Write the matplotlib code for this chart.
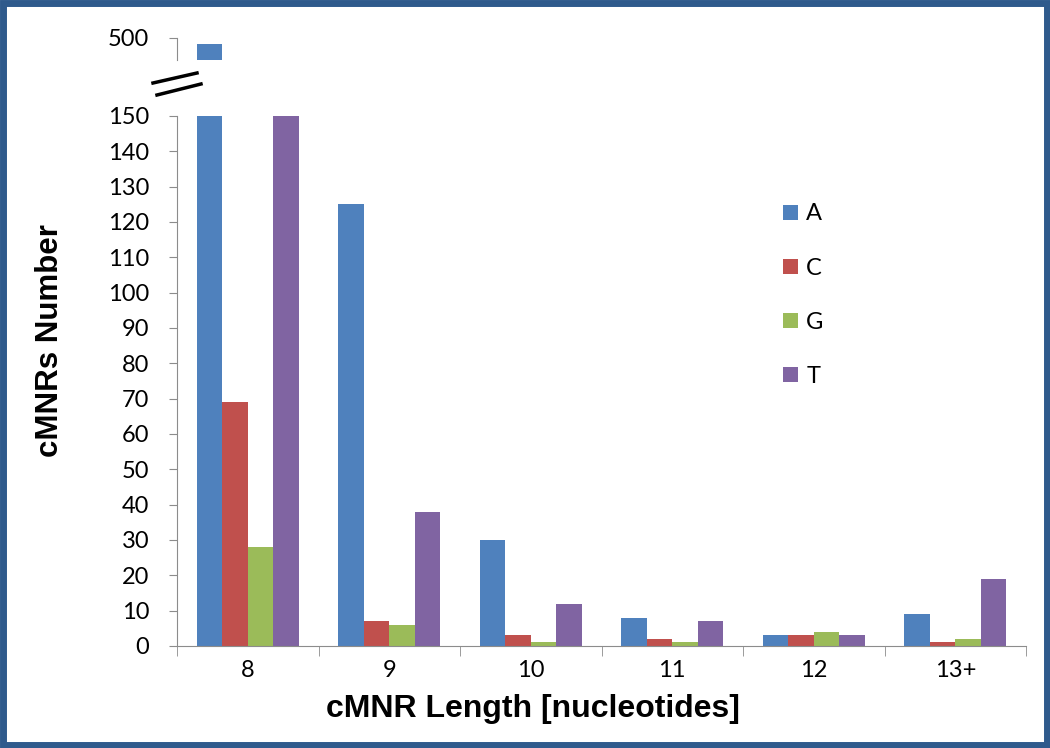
import matplotlib.pyplot as plt
import numpy as np
from matplotlib.patches import Rectangle
from matplotlib.lines import Line2D

# データ
lengths = ['8', '9', '10', '11', '12', '13+']
bases = ['A', 'C', 'G', 'T']
count_A = [492, 125, 30, 8, 3, 9]
count_C = [69, 7, 3, 2, 3, 1]
count_G = [28, 6, 1, 1, 4, 2]
count_T = [152, 38, 12, 7, 3, 19]
colors = ['#4F81BD', '#C0504D', '#9BBB59', '#8064A2']

W, H = 1050, 748
fig = plt.figure(figsize=(W / 100, H / 100), dpi=100)

def fx(px):
    return px / W

def fy(py):
    return 1 - py / H

label_font = dict(family=['Liberation Sans', 'DejaVu Sans'], fontweight='bold')
tick_font = ['Lato', 'DejaVu Sans']

# 下側 (0-150) と上側 (500付近) の軸
ax = fig.add_axes([fx(177), fy(646), fx(1026) - fx(177), fy(116) - fy(646)])
ax_top = fig.add_axes([fx(177), fy(60), fx(1026) - fx(177), fy(38) - fy(60)], sharex=ax)

x = np.arange(len(lengths))
bw = 0.18
series = [count_A, count_C, count_G, count_T]
for i, (vals, col, lab) in enumerate(zip(series, colors, bases)):
    pos = x + (i - 1.5) * bw
    ax.bar(pos, vals, width=bw, color=col, label=lab)
    ax_top.bar(pos, vals, width=bw, color=col)

ax.set_ylim(0, 150)
ax_top.set_ylim(470, 500)
ax.set_xlim(-0.5, len(lengths) - 0.5)

spine_col = '#8C8C8C'
for a in (ax, ax_top):
    a.spines['top'].set_visible(False)
    a.spines['right'].set_visible(False)
    a.spines['left'].set_color(spine_col)
    a.tick_params(axis='y', direction='out', length=6, color=spine_col,
                  labelsize=17, pad=14)
ax.spines['bottom'].set_color(spine_col)
ax_top.spines['bottom'].set_visible(False)

ax.set_yticks(np.arange(0, 151, 10))
ax_top.set_yticks([500])

# x軸: 目盛り線はカテゴリ境界、ラベルは中央
ax.set_xticks(x)
ax.set_xticklabels(lengths)
ax.set_xticks(np.arange(-0.5, len(lengths)), minor=True)
ax.tick_params(axis='x', which='major', length=0, labelsize=17, pad=10)
ax.tick_params(axis='x', which='minor', direction='out', length=7, color=spine_col)
ax_top.tick_params(axis='x', which='both', bottom=False, labelbottom=False)

for a in (ax, ax_top):
    for t in a.get_xticklabels() + a.get_yticklabels():
        t.set_fontfamily(tick_font)

# 凡例
ax_w = fx(1026) - fx(177)
leg = ax.legend(loc='upper left', bbox_to_anchor=((fx(762) - fx(177)) / ax_w, 0.875),
                frameon=False, handlelength=0.62, handleheight=0.62,
                labelspacing=1.4, handletextpad=0.35,
                prop={'family': tick_font, 'size': 17})

# 軸ラベル
fig.text(fx(50), fy(341), 'cMNRs Number', rotation=90, ha='center', va='center',
         fontsize=22.5, **label_font)
fig.text(fx(533), fy(709), 'cMNR Length [nucleotides]', ha='center', va='center',
         fontsize=23, **label_font)

# 軸の省略記号 (//)
fig.add_artist(Line2D([fx(153), fx(197)], [fy(83), fy(73)], color='black', lw=2.5))
fig.add_artist(Line2D([fx(157), fx(201)], [fy(95), fy(84)], color='black', lw=2.5))

# 外枠
fig.add_artist(Rectangle((0.003, 0.004), 0.994, 0.992, transform=fig.transFigure,
                         fill=False, edgecolor='#2F5A8C', lw=5))

fig.savefig('out.png', dpi=100)
